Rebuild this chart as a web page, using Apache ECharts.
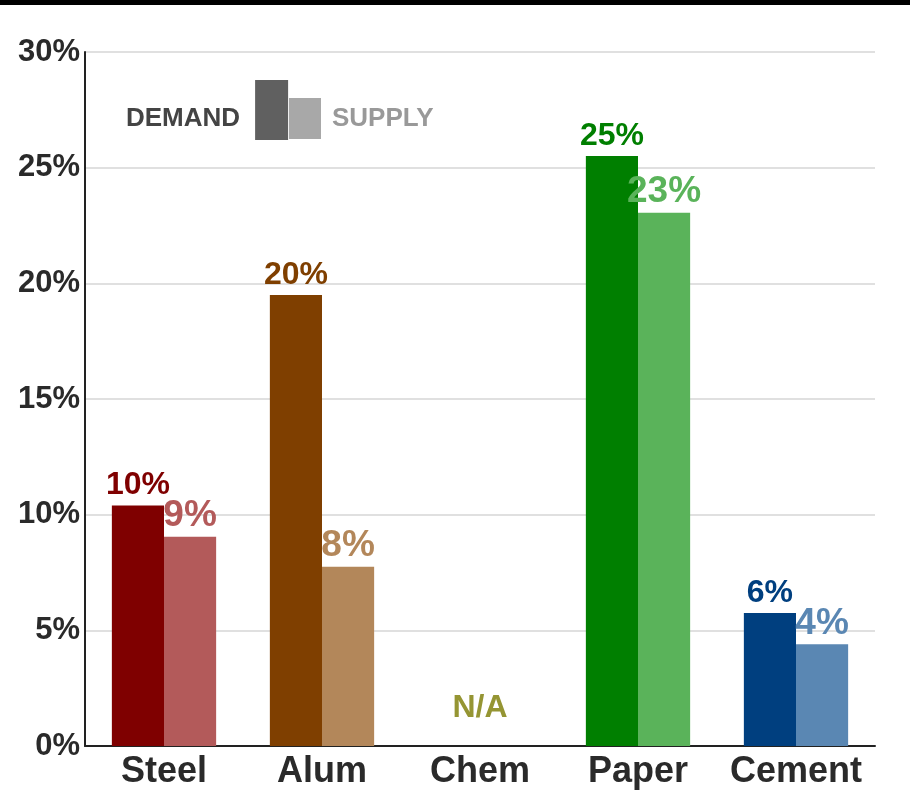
<!DOCTYPE html>
<html>
<head>
<meta charset="utf-8">
<script src="https://cdn.jsdelivr.net/npm/echarts@6/dist/echarts.min.js"></script>
<style>
  html, body { margin: 0; padding: 0; background: #fff; }
  #topbar { position: absolute; left: 0; top: 0; width: 910px; height: 5px; background: #000; z-index: 2; }
  #chart { width: 910px; height: 811px; }
</style>
</head>
<body>
<div id="topbar"></div>
<div id="chart"></div>
<script>
// categories and values (percent)
const categories = ['Steel', 'Alum', 'Chem', 'Paper', 'Cement']
const demand = [10.4, 19.5, null, 25.5, 5.75]
const supply = [9.05, 7.75, null, 23.05, 4.4]
const demandLabels = ['10%', '20%', '', '25%', '6%']
const supplyLabels = ['9%', '8%', '', '23%', '4%']
const yTicks = [0, 5, 10, 15, 20, 25, 30]
const naCategory = 'Chem'

// colours per category
const demandColors = ['#7f0000', '#7f3f00', '#808000', '#007f00', '#003f7f']
const supplyColors = ['#b35a5a', '#b3875a', '#b3b35a', '#5ab35a', '#5a87b3']

const chart = echarts.init(document.getElementById('chart'))

const font = 'Liberation Sans, Arial, sans-serif'

function buildData(values, colors, labels, size, dist) {
  return values.map((v, i) => ({
    value: v,
    itemStyle: { color: colors[i] },
    label: {
      show: v !== null,
      position: 'top',
      distance: dist,
      formatter: labels[i],
      color: colors[i],
      fontFamily: font,
      fontWeight: 'bold',
      fontSize: size,
    },
  }))
}

chart.setOption({
  animation: false,
  grid: {
    left: 85,
    right: 35,
    top: 52,
    bottom: 65,
  },
  legend: [
    {
      data: [{ name: 'DEMAND', icon: 'rect' }],
      left: 126,
      top: 80,
      padding: 0,
      align: 'right',
      itemWidth: 33,
      itemHeight: 60,
      selectedMode: false,
      formatter: '{d|{name}}',
      textStyle: {
        rich: {
          d: {
            color: '#444',
            fontFamily: font,
            fontWeight: 'bold',
            fontSize: 26,
            padding: [18, 10, 0, 0],
          },
        },
      },
    },
    {
      data: [{ name: 'SUPPLY', icon: 'rect' }],
      left: 289,
      top: 98,
      padding: 0,
      align: 'left',
      itemWidth: 32,
      itemHeight: 41,
      selectedMode: false,
      textStyle: {
        color: '#999',
        fontFamily: font,
        fontWeight: 'bold',
        fontSize: 26,
        padding: [0, 0, 0, 6],
      },
    },
  ],
  xAxis: {
    type: 'category',
    data: categories,
    axisTick: { show: false },
    axisLine: { lineStyle: { color: '#222', width: 2 } },
    axisLabel: {
      interval: 0,
      color: '#2a2a2a',
      fontFamily: font,
      fontWeight: 'bold',
      fontSize: 36,
      margin: 8,
    },
  },
  yAxis: {
    type: 'value',
    min: yTicks[0],
    max: yTicks[yTicks.length - 1],
    interval: 5,
    axisLine: { show: true, lineStyle: { color: '#222', width: 2 } },
    axisTick: { show: false },
    splitLine: { lineStyle: { color: '#d6d6d6', width: 1.5 } },
    axisLabel: {
      formatter: '{value}%',
      color: '#2a2a2a',
      fontFamily: font,
      fontWeight: 'bold',
      fontSize: 31,
      margin: 5,
    },
  },
  series: [
    {
      name: 'DEMAND',
      type: 'bar',
      barGap: '0%',
      barCategoryGap: '34%',
      itemStyle: { color: '#606060' },
      data: buildData(demand, demandColors, demandLabels, 32, 4),
    },
    {
      name: 'SUPPLY',
      type: 'bar',
      itemStyle: { color: '#a8a8a8' },
      data: buildData(supply, supplyColors, supplyLabels, 37, 2),
    },
    {
      name: 'N/A',
      type: 'scatter',
      symbolSize: 0,
      data: [[naCategory, 0]],
      label: {
        show: true,
        position: 'top',
        distance: 22,
        formatter: 'N/A',
        color: '#7a7a00',
        fontFamily: font,
        fontWeight: 'bold',
        fontSize: 32,
      },
    },
  ],
})
</script>
</body>
</html>
